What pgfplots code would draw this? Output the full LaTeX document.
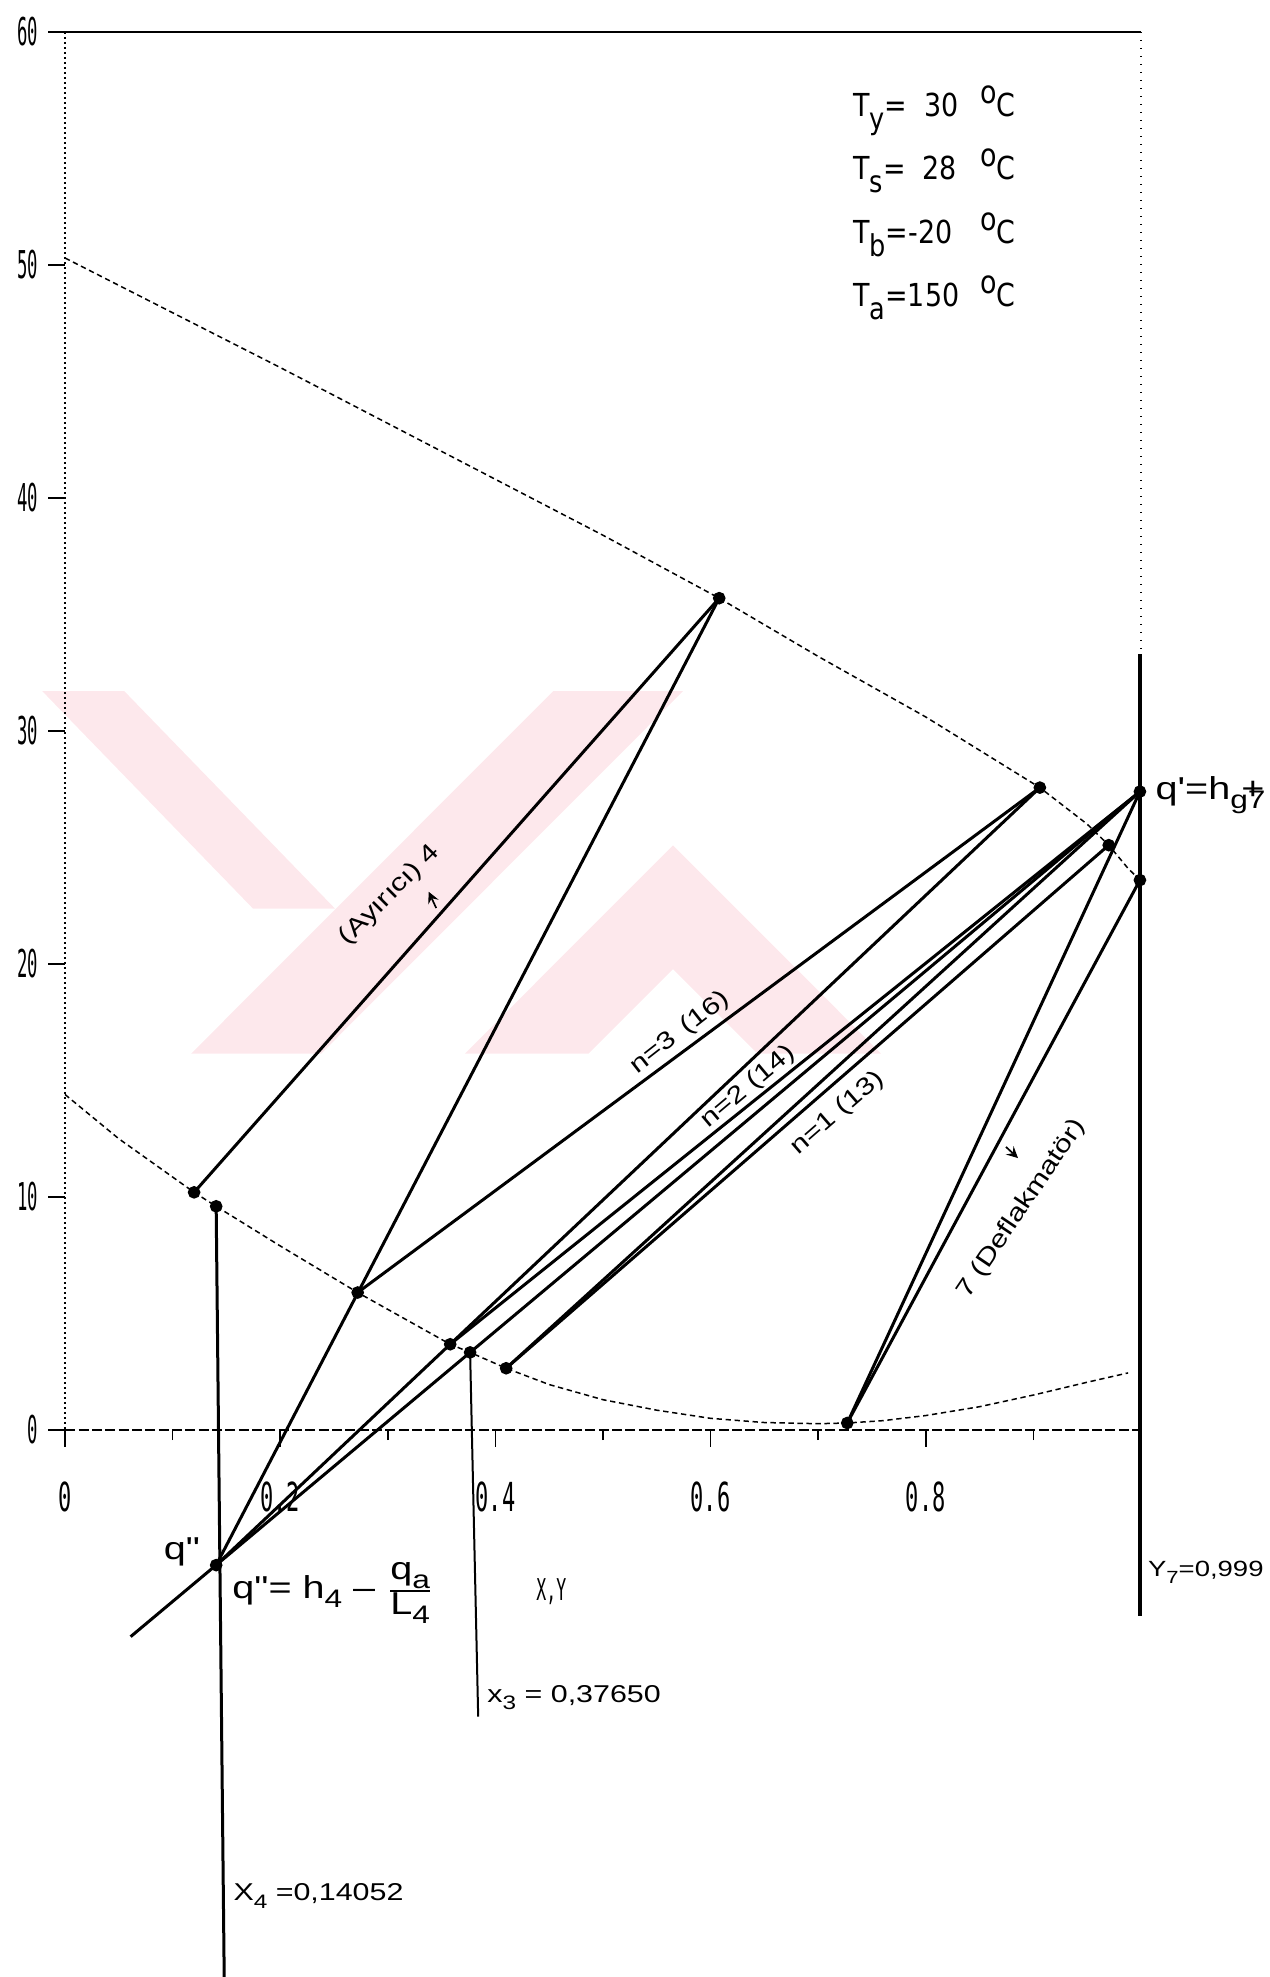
\documentclass[border=0pt]{standalone}
\usepackage{fontspec}
\setmainfont{Liberation Sans}
\newfontfamily\dotfont[FakeStretch=0.55]{DejaVu Sans Mono}
\newfontfamily\ydotfont[FakeStretch=0.45]{DejaVu Sans Mono}
\newfontfamily\plotfont[FakeStretch=0.85]{DejaVu Sans}
\newfontfamily\handfont[FakeStretch=1.25]{Liberation Sans}
\usepackage{pgfplots}
\pgfplotsset{compat=1.18}

% lowered subscript close to full size, as written by hand
\newcommand\sub[1]{\raisebox{-0.55ex}{\scalebox{0.8}{#1}}}
\newcommand\psub[1]{\raisebox{-0.75ex}{\scalebox{0.95}{#1}}}

\definecolor{markpink}{RGB}{253,232,236}

\tikzset{
  tie/.style={black, line width=0.9pt},
  sat/.style={black, line width=0.45pt, dash pattern=on 1.6pt off 1.1pt},
  hand/.style={font=\handfont\fontsize{7.3}{8}\selectfont, inner sep=0pt},
}

\begin{document}
\begin{tikzpicture}
\begin{axis}[
  x=322.8pt, y=6.99pt,
  xmin=0, xmax=1, ymin=0, ymax=60,
  clip=false,
  axis line style={draw=none},
  xtick={0,0.2,0.4,0.6,0.8},
  minor xtick={0.1,0.3,0.5,0.7,0.9,1.0},
  ytick={0,10,20,30,40,50,60},
  xtick pos=left, ytick pos=left,
  tick align=outside,
  major tick length=5pt, minor tick length=3pt,
  tick style={black, line width=0.5pt},
  /pgf/number format/assume math mode=true,
  scaled ticks=false,
  xticklabel style={font=\dotfont\fontsize{12}{12}\selectfont, yshift=-7pt},
  yticklabel style={font=\ydotfont\fontsize{11.5}{12}\selectfont, xshift=0.5pt},
]

% pale background emblem
\begin{scope}[fill=markpink, draw=none]
\fill (axis cs:-0.0211,31.71) -- (axis cs:0.0551,31.71) -- (axis cs:0.2509,22.38) -- (axis cs:0.1747,22.38) -- cycle;
\fill (axis cs:0.4537,31.71) -- (axis cs:0.5744,31.71) -- (axis cs:0.2380,16.15) -- (axis cs:0.1172,16.15) -- cycle;
\fill (axis cs:0.3716,16.15) -- (axis cs:0.5651,25.09) -- (axis cs:0.7585,16.15) -- (axis cs:0.6436,16.15)
      -- (axis cs:0.5651,19.78) -- (axis cs:0.4865,16.15) -- cycle;
\end{scope}

% frame of the enthalpy-composition field
\draw[black, line width=0.6pt] (axis cs:-0.012,60) -- (axis cs:1,60);
\draw[black, line width=0.5pt, densely dotted] (axis cs:0,60) -- (axis cs:0,-0.7);
\draw[black, line width=0.4pt, dotted] (axis cs:1,60) -- (axis cs:1,-1);
\draw[black, line width=0.5pt, dash pattern=on 3pt off 1pt] (axis cs:-0.012,0) -- (axis cs:1,0);

% saturated vapour enthalpy H(y)
\addplot[sat] coordinates {
  (0,50.3) (0.1,47.95) (0.2,45.6) (0.3,43.2) (0.4,40.8) (0.5,38.4)
  (0.608,35.7) (0.7,33.2) (0.8,30.6) (0.906,27.57) (0.95,26.0)
  (0.97,25.1) (0.988,24.1) (0.999,23.6)};

% saturated liquid enthalpy h(x)
\addplot[sat] coordinates {
  (0,14.4) (0.05,12.5) (0.12,10.2) (0.1405,9.6) (0.2,7.9) (0.272,5.9)
  (0.358,3.68) (0.3765,3.33) (0.41,2.65) (0.45,1.95) (0.5,1.3) (0.55,0.85)
  (0.6,0.5) (0.65,0.32) (0.7,0.27) (0.727,0.3) (0.76,0.4) (0.8,0.62)
  (0.85,1.0) (0.9,1.5) (0.95,2.05) (0.988,2.45)};

% tie lines and operating lines
\addplot[tie] coordinates {(0.12,10.2) (0.608,35.7)};
\addplot[tie] coordinates {(0.1405,-5.8) (0.608,35.7)};
\addplot[tie] coordinates {(0.272,5.9) (0.906,27.57)};
\addplot[tie] coordinates {(0.1405,-5.8) (0.906,27.57)};
\addplot[tie] coordinates {(0.358,3.68) (0.999,27.4)};
\addplot[tie] coordinates {(0.061,-8.87) (0.999,27.4)};
\addplot[tie] coordinates {(0.41,2.65) (0.97,25.1)};
\addplot[tie] coordinates {(0.41,2.65) (0.999,27.4)};
\addplot[tie] coordinates {(0.727,0.3) (0.999,27.4)};
\addplot[tie] coordinates {(0.727,0.3) (0.999,23.6)};

% composition verticals x4, x3, y7
\addplot[black, line width=0.9pt] coordinates {(0.1405,9.6) (0.148,-23.6)};
\addplot[black, line width=0.6pt] coordinates {(0.3765,3.33) (0.384,-12.3)};
\addplot[black, line width=1pt] coordinates {(0.999,33.3) (0.999,-8.0)};

% state points
\addplot[only marks, mark=*, mark size=1.7pt, black] coordinates {
  (0.12,10.2) (0.1405,9.6) (0.272,5.9) (0.358,3.68) (0.3765,3.33)
  (0.41,2.65) (0.727,0.3) (0.608,35.7) (0.906,27.57) (0.97,25.1)
  (0.999,27.4) (0.999,23.6) (0.1405,-5.8)};

% temperatures
\begin{scope}[every node/.style={font=\plotfont\fontsize{9.5}{10}\selectfont, inner sep=0pt, anchor=base west}]
\node at (axis cs:0.732,56.37) {T\psub{y}=\phantom{1}30};
\node at (axis cs:0.732,53.65) {T\psub{s}=\phantom{1}28};
\node at (axis cs:0.732,50.93) {T\psub{b}=-20};
\node at (axis cs:0.732,48.21) {T\psub{a}=150};
\node at (axis cs:0.850,56.37) {\raisebox{0.75ex}{o}C};
\node at (axis cs:0.850,53.65) {\raisebox{0.75ex}{o}C};
\node at (axis cs:0.850,50.93) {\raisebox{0.75ex}{o}C};
\node at (axis cs:0.850,48.21) {\raisebox{0.75ex}{o}C};
\end{scope}

\node[font=\dotfont\fontsize{9}{9}\selectfont] at (axis cs:0.452,-6.95) {X,Y};

% line captions
\node[hand, rotate=45] at (axis cs:0.302,22.96) {(Ayırıcı) 4};
\draw[-stealth, line width=0.5pt] (axis cs:0.345,22.4) -- (axis cs:0.338,23.1);
\node[hand, rotate=38] at (axis cs:0.5716,17.04) {n=3\enspace(16)};
\node[hand, rotate=40] at (axis cs:0.635,14.72) {n=2 (14)};
\node[hand, rotate=41] at (axis cs:0.718,13.6) {n=1 (13)};
\node[hand, rotate=56] at (axis cs:0.889,9.5) {7 (Deflakmatör)};
\draw[-stealth, line width=0.5pt] (axis cs:0.8745,12.15) -- (axis cs:0.8857,11.67);

\node[hand, anchor=west] at (axis cs:0.392,-11.5) {x\sub{3} = 0,37650};
\node[hand, anchor=west] at (axis cs:0.156,-20.0) {X\sub{4} =0,14052};
\node[hand, anchor=west, font=\handfont\fontsize{6.6}{7}\selectfont] at (axis cs:1.006,-6.1) {Y\sub{7}=0,999};

\node[hand, font=\handfont\fontsize{9.5}{10}\selectfont] at (axis cs:0.1087,-5.24) {q\symbol{"22}};
\node[hand, anchor=west, font=\handfont\fontsize{9.5}{10}\selectfont] at (axis cs:0.155,-7.0)
  {q\symbol{"22}= h\sub{4} \textendash\ $\frac{\mbox{q\sub{a}}}{\mbox{L\sub{4}}}$};
\node[hand, anchor=west, font=\handfont\fontsize{9.5}{10}\selectfont] at (axis cs:1.013,27.47)
  {q\symbol{"27}=h\rlap{\sub{g7}}\hspace{0.35em}+\,$\frac{\mbox{q\sub{b}}}{\mbox{D}}$};

\coordinate (bbsw) at (axis cs:-0.0604,-23.476);
\coordinate (bbne) at (axis cs:1.119,61.373);
\end{axis}
\pgfresetboundingbox
\path[use as bounding box] (bbsw) rectangle (bbne);
\end{tikzpicture}
\end{document}
